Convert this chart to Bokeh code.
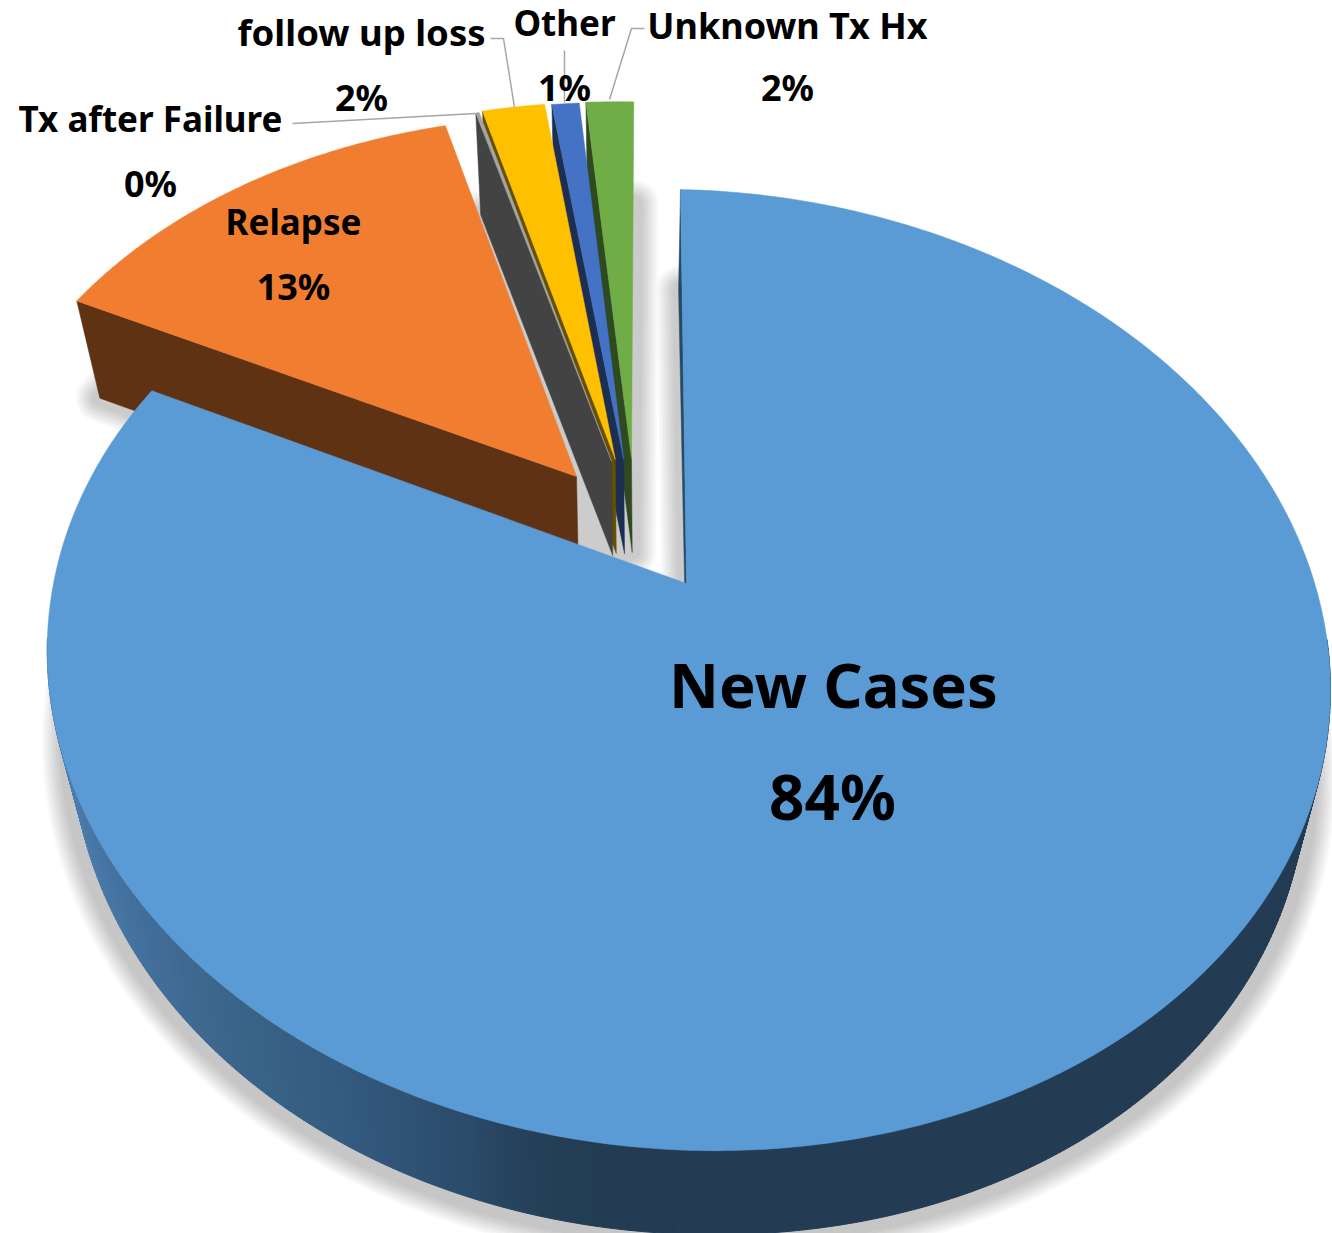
import numpy as np
from bokeh.plotting import figure
from bokeh.models import Range1d, ColumnDataSource
from bokeh.core.properties import value
from bokeh.embed import file_html
from bokeh.resources import INLINE

# ---------- data ----------
categories = ["New Cases", "Relapse", "Tx after Failure", "follow up loss", "Other", "Unknown Tx Hx"]
shares = [81.89, 13.67, 0.11, 1.97, 0.86, 1.50]
percent_labels = ["84%", "13%", "0%", "2%", "1%", "2%"]

# ---------- style ----------
top_colors = ["#5b9bd5", "#f17e30", "#a5a5a5", "#ffc000", "#4472c4", "#70ad47"]
wall_colors = ["#264a66", "#5f3214", "#434343", "#665000", "#1c2f53", "#2f4a20"]
explode = [(0, 0), (-0.177, 0.236), (-0.119, 0.273), (-0.113, 0.278), (-0.099, 0.278), (-0.086, 0.281)]
radius = [1.0, 0.985, 0.99, 0.99, 0.99, 0.99]
first_angle = 0.5
name_pos = [(833, 710), (293, 236), (150, 133), (361, 47), (564, 37), (787, 40)]
pct_pos = [(832, 822), (293, 301), (150, 198), (361, 112), (564, 102), (787, 102)]
name_sizes = [61.5, 35, 35, 36.5, 35, 36]
pct_sizes = [62, 36, 36, 36, 36, 36]
MID_SHIFT = 0.43  # distance from the baseline up to the text's anchor, as a fraction of its size
FONT = "Noto Sans"

W, H = 1332, 1233
p = figure(width=W, height=H, output_backend="svg", toolbar_location=None,
           x_range=Range1d(0, W), y_range=Range1d(H, 0),
           min_border=0, outline_line_color=None, background_fill_color="white")
p.axis.visible = False
p.grid.visible = False


def proj(X, Y):
    X, Y = np.asarray(X, float), np.asarray(Y, float)
    w = 1 + 0.18 * Y
    x = 686 + 631 * X / w
    y = 583 - 465 * Y / w
    return x + 0.027 * (y - 583), y + 0.0156 * (x - 686)


def under(X, Y):
    x, y = proj(X, Y)
    d = x - 688
    return x - np.sign(d) * 23 * (np.abs(d) / 610) ** 1.47, y + 92 + 8 * np.asarray(Y, float)


def arc(i, a0, a1):
    t = np.radians(np.linspace(a0, a1, max(3, int(abs(a1 - a0) * 2) + 1)))
    return explode[i][0] + radius[i] * np.sin(t), explode[i][1] + radius[i] * np.cos(t)


deg = np.array(shares) / sum(shares) * 360
starts = first_angle + np.concatenate([[0], np.cumsum(deg)[:-1]])
ends = starts + deg


def halo(xs, ys, e0, e1, alpha):
    for e in range(e0, e1, 2):
        p.line(list(xs), list(ys), line_color="black", line_alpha=alpha, line_width=2 * e,
               line_join="round", line_cap="round")


# shadows: the exploded group as a single outline, and the main slice
ax, ay = arc(0, starts[0], ends[0])
bx, by = under(ax, ay)
ox, oy = under(*explode[0])
tx, ty = proj(ax, ay)

gx, gy = [], []
for i in [1, 2, 3, 4, 5]:
    sx_, sy_ = arc(i, starts[i], ends[i])
    ux, uy = under(sx_, sy_)
    gx += list(ux); gy += list(uy)
for i in [5, 4, 3, 2, 1]:
    ux, uy = under(*explode[i])
    gx.append(float(ux)); gy.append(float(uy))
halo(gx + gx[:1], gy + gy[:1], 8, 26, 0.0245)
p.patch(gx, gy, fill_color="#cccccc", line_color=None)

lower = ty > 600
halo(bx[lower], by[lower], 12, 32, 0.022)
halo([float(bx[0]), float(ox)], [float(by[0]), float(oy)], 8, 26, 0.0245)
p.patch(np.r_[bx, ox], np.r_[by, oy], fill_color="#cccccc", line_color=None)

# exploded slices: far right first, each next one painted over it
for i in [5, 4, 3, 2, 1]:
    ux_, uy_ = arc(i, starts[i], ends[i])
    sx, sy = proj(ux_, uy_)
    ex, ey = proj(*explode[i])
    ubx, uby = under(ux_[0], uy_[0])
    uex, uey = under(*explode[i])
    p.patch([float(sx[0]), float(ex), float(uex), float(ubx)],
            [float(sy[0]), float(ey), float(uey), float(uby)],
            fill_color=wall_colors[i], line_color=wall_colors[i], line_width=0.5)
    p.patch(list(sx) + [float(ex)], list(sy) + [float(ey)],
            fill_color=top_colors[i], line_color=top_colors[i], line_width=0.5)

# main slice: rim with a horizontal shading, start wall, top face
stop_x = [70, 150, 250, 350, 450, 540, 600]
stop_c = [(0x4c, 0x7f, 0xb0), (0x42, 0x6f, 0x9b), (0x3a, 0x64, 0x88), (0x33, 0x5a, 0x7f),
          (0x2c, 0x4e, 0x6e), (0x24, 0x3f, 0x57), (0x23, 0x3c, 0x53)]
rim_x, rim_y, rim_c = [], [], []
for j in range(len(ax) - 1):
    if ty[j] < 640 and ty[j + 1] < 640:
        continue
    rim_x.append([tx[j], tx[j + 1], bx[j + 1], bx[j]])
    rim_y.append([ty[j], ty[j + 1], by[j + 1], by[j]])
    m = (bx[j] + bx[j + 1]) / 2
    c = [int(round(np.interp(m, stop_x, [s[k] for s in stop_c]))) for k in range(3)]
    rim_c.append("#%02x%02x%02x" % tuple(c))
p.patches(rim_x, rim_y, fill_color=rim_c, line_color=rim_c, line_width=1)

ex, ey = proj(*explode[0])
uex, uey = under(*explode[0])
p.patch([float(tx[0]), float(ex), float(uex), float(bx[0]) - 2],
        [float(ty[0]), float(ey), float(uey), float(by[0])],
        fill_color=wall_colors[0], line_color=wall_colors[0], line_width=0.5)
p.patch(list(tx) + [float(ex)], list(ty) + [float(ey)],
        fill_color=top_colors[0], line_color=top_colors[0], line_width=0.5)

# leader lines
leaders = [([292, 475], [123, 113]), ([490, 503, 514], [38, 38, 107]),
           ([564, 564], [50, 102]), ([644, 631, 609], [28, 28, 99])]
for lx, ly in leaders:
    p.line(lx, ly, line_color="#a6a6a6", line_width=1.5)

# labels
all_pos = name_pos + pct_pos
all_sizes = name_sizes + pct_sizes
src = ColumnDataSource(dict(
    x=[q[0] for q in all_pos],
    y=[q[1] - MID_SHIFT * s for q, s in zip(all_pos, all_sizes)],
    t=categories + percent_labels,
    s=[f"{v}px" for v in all_sizes]))
p.text("x", "y", text="t", source=src, text_font=value(FONT), text_font_size="s",
       text_font_style="bold", text_align="center", text_baseline="middle", text_color="black")

open("out.html", "w").write(file_html(p, INLINE))
